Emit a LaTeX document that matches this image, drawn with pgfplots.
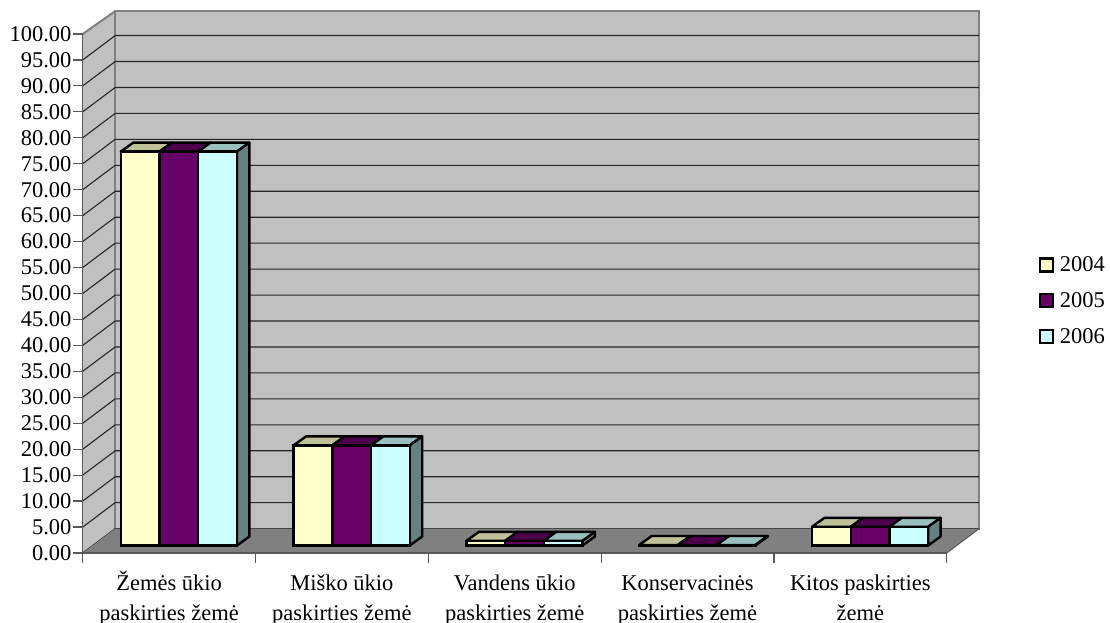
\documentclass[border=0pt]{standalone}
\usepackage{fontspec}
\setmainfont{Liberation Serif}
\usepackage{pgfplots}
\usepackage{pgfplotstable}
\pgfplotsset{compat=1.18}

\definecolor{wall}{HTML}{C0C0C0}
\definecolor{floorc}{HTML}{808080}
\definecolor{yA}{HTML}{FFFFCC}
\definecolor{yB}{HTML}{660066}
\definecolor{yC}{HTML}{CCFFFF}
\definecolor{yAtop}{HTML}{BFBF99}
\definecolor{yBtop}{HTML}{4C004C}
\definecolor{yCtop}{HTML}{99BFBF}
\definecolor{yCside}{HTML}{668080}

\newcommand\lblfont{\fontsize{22.5}{29.7}\selectfont}

% land use share, % (category number in column cat)
\pgfplotstableread{
cat a2004 a2005 a2006
1   75.9  75.9  75.9
2   19.3  19.3  19.3
3   0.9   0.9   0.9
4   0.1   0.1   0.1
5   3.6   3.6   3.6
}\landdata

% bar depth in data units: 12.5px sideways, 9px up
\newcommand\dx{0.0723}
\newcommand\dy{1.73}
\newcommand\bw{0.224}

% top face: row, column, series index (-1,0,1), colour
\newcommand\topface[4]{%
  \pgfplotstablegetelem{#1}{#2}\of\landdata
  \let\val\pgfplotsretval
  \pgfmathsetmacro\xa{#1+1+(#3-0.5)*\bw}
  \pgfmathsetmacro\xb{\xa+\bw}
  \pgfmathsetmacro\xc{\xb+\dx}
  \pgfmathsetmacro\xd{\xa+\dx}
  \pgfmathsetmacro\yt{\val+\dy}
  \edef\tmp{\noexpand\addplot[sharp plot,draw=black,line width=2.4pt,fill=#4,line join=round,forget plot]
    coordinates {(\xa,\val) (\xb,\val) (\xc,\yt) (\xd,\yt)} -- cycle;}
  \tmp
}
% side face of the last bar in a group
\newcommand\sideface[1]{%
  \pgfplotstablegetelem{#1}{a2006}\of\landdata
  \let\val\pgfplotsretval
  \pgfmathsetmacro\xb{#1+1+1.5*\bw}
  \pgfmathsetmacro\xc{\xb+\dx}
  \pgfmathsetmacro\yt{\val+\dy}
  \edef\tmp{\noexpand\addplot[sharp plot,draw=black,line width=2.4pt,fill=yCside,line join=round,forget plot]
    coordinates {(\xb,0) (\xc,\dy) (\xc,\yt) (\xb,\val)} -- cycle;}
  \tmp
}

\begin{document}
\begin{tikzpicture}[x=1pt,y=1pt]
\path[use as bounding box,fill=white] (0,0) rectangle (1110,623);

% walls, floor, ticks
\begin{axis}[
  at={(82.7pt,70pt)},
  anchor=south west,
  scale only axis,
  width=864pt,
  height=519pt,
  xmin=0.5, xmax=5.5,
  ymin=0, ymax=100,
  clip=false,
  axis on top,
  axis x line*=bottom,
  axis y line*=left,
  axis line style={draw=black!65,line width=1.5pt,-},
  ytick={0,5,...,100},
  xtick={0.5,1.5,2.5,3.5,4.5,5.5},
  x tick label as interval,
  xticklabels={{\strut Žemės ūkio\\paskirties žemė},{\strut Miško ūkio\\paskirties žemė},{\strut Vandens ūkio\\paskirties žemė},{\strut Konservacinės\\paskirties žemė},{\strut Kitos paskirties\\žemė}},
  x tick label style={align=center,font=\lblfont,yshift=-3pt},
  y tick label style={font=\lblfont,inner xsep=1pt},
  yticklabel style={/pgf/number format/.cd,fixed,fixed zerofill,precision=2,assume math mode=true},
  tick align=outside,
  major tick length=10pt,
  tick style={draw=black!65,line width=1.2pt},
]
\fill[wall] (axis cs:0.5,0) -- (axis cs:0.5,100) -- (axis cs:0.688,104.4) -- (axis cs:0.688,4.7) -- cycle;
\filldraw[fill=wall,draw=floorc,line width=2.2pt] (axis cs:0.688,4.7) rectangle (axis cs:5.688,104.4);
\draw[draw=floorc,line width=2pt] (axis cs:0.5,100) -- (axis cs:0.688,104.4);
\pgfplotsinvokeforeach{0,5,...,95}{
  \draw[black!85,line width=1.1pt] (axis cs:0.5,#1) -- (axis cs:0.688,#1+4.7) -- (axis cs:5.688,#1+4.7);
}
\fill[floorc] (axis cs:0.5,0) -- (axis cs:5.5,0) -- (axis cs:5.688,4.7) -- (axis cs:0.688,4.7) -- cycle;
\draw[black!65,line width=1pt] (axis cs:5.5,0) -- (axis cs:5.688,4.7);
\end{axis}

% bars, plane set back from the front edge
\begin{axis}[
  at={(92.45pt,77.5pt)},
  anchor=south west,
  scale only axis,
  width=864pt,
  height=519pt,
  xmin=0.5, xmax=5.5,
  ymin=0, ymax=100,
  clip=false,
  hide axis,
  legend style={at={(1.095,0.4717)},anchor=west,draw=none,fill=none,
    font=\lblfont,row sep=15.2pt,inner sep=0pt,/tikz/every odd column/.append style={column sep=4pt}},
  legend cell align=left,
  swatch/.style={legend image code/.code={\draw[##1,line width=2.2pt] (0pt,-6.5pt) rectangle (13pt,6.5pt);}},
]
\pgfplotsinvokeforeach{0,1,2,3,4}{
  \topface{#1}{a2004}{-1}{yAtop}
  \topface{#1}{a2005}{0}{yBtop}
  \topface{#1}{a2006}{1}{yCtop}
  \sideface{#1}
}
\addplot[ybar,bar width=38.7pt,bar shift=-38.7pt,swatch,draw=black,line width=2.4pt,fill=yA] table[x=cat,y=a2004] {\landdata};
\addlegendentry{2004}
\addplot[ybar,bar width=38.7pt,bar shift=0pt,swatch,draw=black,line width=2.4pt,fill=yB] table[x=cat,y=a2005] {\landdata};
\addlegendentry{2005}
\addplot[ybar,bar width=38.7pt,bar shift=38.7pt,swatch,draw=black,line width=2.4pt,fill=yC] table[x=cat,y=a2006] {\landdata};
\addlegendentry{2006}
\end{axis}
\end{tikzpicture}
\end{document}
